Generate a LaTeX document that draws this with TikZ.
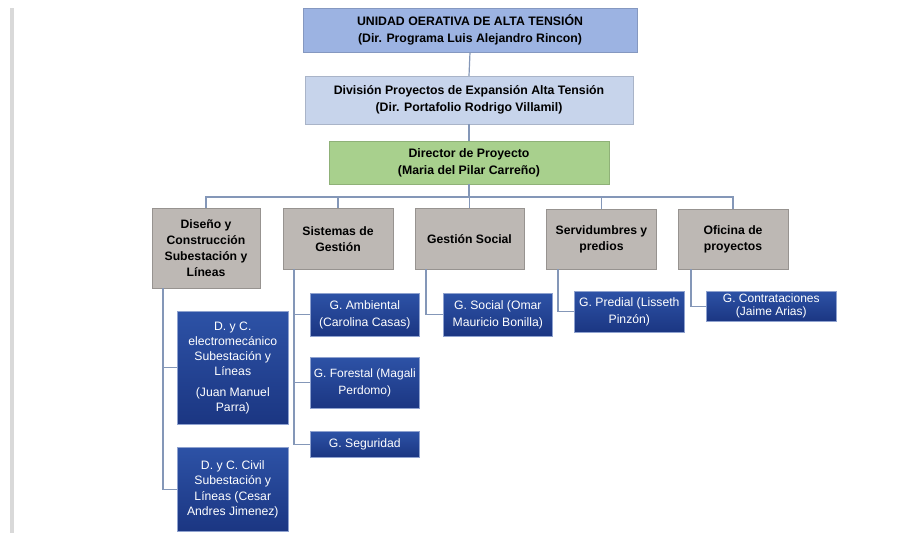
\documentclass[tikz,border=0pt]{standalone}
\usepackage{fontspec}
\setmainfont{Liberation Sans}
\begin{document}
\begin{tikzpicture}[x=1pt,y=-1pt,
  conn/.style={draw=linec, line width=1.2pt},
  topbox/.style={fill=topblue, draw=topblue!85!black, line width=0.3pt, font=\bfseries\fontsize{12.3}{17}\selectfont, align=center, inner sep=0pt},
  graybox/.style={fill=boxgray, draw=boxgray!80!black, line width=0.3pt, font=\bfseries\fontsize{12.2}{16}\selectfont, align=center, inner sep=0pt},
  bluebox/.style={top color=bluetop, bottom color=bluebot, draw=blueedge, line width=0.6pt, text=white, font=\fontsize{12.2}{15.3}\selectfont, align=center, inner sep=0pt}
]
\definecolor{linec}{HTML}{8497B8}
\definecolor{topblue}{HTML}{9CB3E2}
\definecolor{secblue}{HTML}{C7D4EB}
\definecolor{greenbox}{HTML}{A8D08D}
\definecolor{boxgray}{HTML}{BDB8B4}
\definecolor{bluetop}{HTML}{2D52A6}
\definecolor{bluebot}{HTML}{1B3682}
\definecolor{blueedge}{HTML}{8FA2CF}
\useasboundingbox (0,0) rectangle (922,533);
\fill[white] (0,0) rectangle (922,533);
% left margin rule
\fill[gray!30] (10,8) rectangle (14,533);

% top hierarchy
\node[topbox, minimum width=334, minimum height=44] (unidad) at (470,30)
  {UNIDAD OERATIVA DE ALTA TENSIÓN\\(Dir. Programa Luis Alejandro Rincon)};
\node[topbox, fill=secblue, draw=secblue!85!black, minimum width=328, minimum height=48] (division) at (469,100)
  {División Proyectos de Expansión Alta Tensión\\(Dir. Portafolio Rodrigo Villamil)};
\node[topbox, fill=greenbox, draw=greenbox!85!black, minimum width=280, minimum height=43] (director) at (469,162.5)
  {Director de Proyecto\\(Maria del Pilar Carreño)};

% second level (gray)
\node[graybox, minimum width=108, minimum height=80, anchor=north] (diseno) at (206,208)
  {Diseño y\\Construcción\\Subestación y\\Líneas};
\node[graybox, minimum width=110, minimum height=61, anchor=north] (sistemas) at (338,208)
  {Sistemas de\\Gestión};
\node[graybox, minimum width=109, minimum height=61, anchor=north] (gsocial) at (469.5,208)
  {Gestión Social};
\node[graybox, minimum width=110, minimum height=60, anchor=north] (servid) at (601.5,209)
  {Servidumbres y\\predios};
\node[graybox, minimum width=110, minimum height=60, anchor=north] (oficina) at (733,209)
  {Oficina de\\proyectos};

% third level (blue)
\node[bluebox, minimum width=111, minimum height=113, anchor=north west] (electro) at (177,311)
  {D. y C.\\electromecánico\\Subestación y\\Líneas\\[5pt](Juan Manuel\\Parra)};
\node[bluebox, minimum width=111, minimum height=84, anchor=north west] (civil) at (177,447)
  {D. y C. Civil\\Subestación y\\Líneas (Cesar\\Andres Jimenez)};
\node[bluebox, minimum width=109, minimum height=43, anchor=north west, font=\fontsize{12.2}{17}\selectfont] (ambiental) at (310,293)
  {G. Ambiental\\(Carolina Casas)};
\node[bluebox, minimum width=109, minimum height=51, anchor=north west, font=\fontsize{12}{17}\selectfont] (forestal) at (310,357)
  {G. Forestal (Magali\\Perdomo)};
\node[bluebox, minimum width=109, minimum height=26, anchor=north west] (seguridad) at (310,431)
  {G. Seguridad};
\node[bluebox, minimum width=109, minimum height=43, anchor=north west, font=\fontsize{12.2}{17}\selectfont] (social) at (443,293)
  {G. Social (Omar\\Mauricio Bonilla)};
\node[bluebox, minimum width=110, minimum height=41, anchor=north west, font=\fontsize{12.2}{17}\selectfont] (predial) at (574,291)
  {G. Predial (Lisseth\\Pinzón)};
\node[bluebox, minimum width=130, minimum height=30, anchor=north west, font=\fontsize{12}{13}\selectfont] (contrat) at (706,291)
  {G. Contrataciones\\(Jaime Arias)};

% connectors top
\draw[conn] (unidad.south) -- (division.north);
\draw[conn] (division.south) -- (director.north);
\coordinate (bus) at (469,197);
\draw[conn] (director.south) -- (bus);
\draw[conn] (diseno.north) -- (diseno.north |- bus) -- (oficina.north |- bus) -- (oficina.north);
\draw[conn] (sistemas.north |- bus) -- (sistemas.north);
\draw[conn] (gsocial.north |- bus) -- (gsocial.north);
\draw[conn] (servid.north |- bus) -- (servid.north);

% connectors lower
\coordinate (dl) at (163,0);
\draw[conn] (dl |- diseno.south) -- (dl |- civil.west) -- (civil.west);
\draw[conn] (dl |- electro.west) -- (electro.west);
\coordinate (sl) at (294,0);
\draw[conn] (sl |- sistemas.south) -- (sl |- seguridad.west) -- (seguridad.west);
\draw[conn] (sl |- ambiental.west) -- (ambiental.west);
\draw[conn] (sl |- forestal.west) -- (forestal.west);
\coordinate (gl) at (426,0);
\draw[conn] (gl |- gsocial.south) -- (gl |- social.west) -- (social.west);
\coordinate (pl) at (558,0);
\draw[conn] (pl |- servid.south) -- (pl |- predial.west) -- (predial.west);
\coordinate (ol) at (691,0);
\draw[conn] (ol |- oficina.south) -- (ol |- contrat.west) -- (contrat.west);
\end{tikzpicture}
\end{document}
